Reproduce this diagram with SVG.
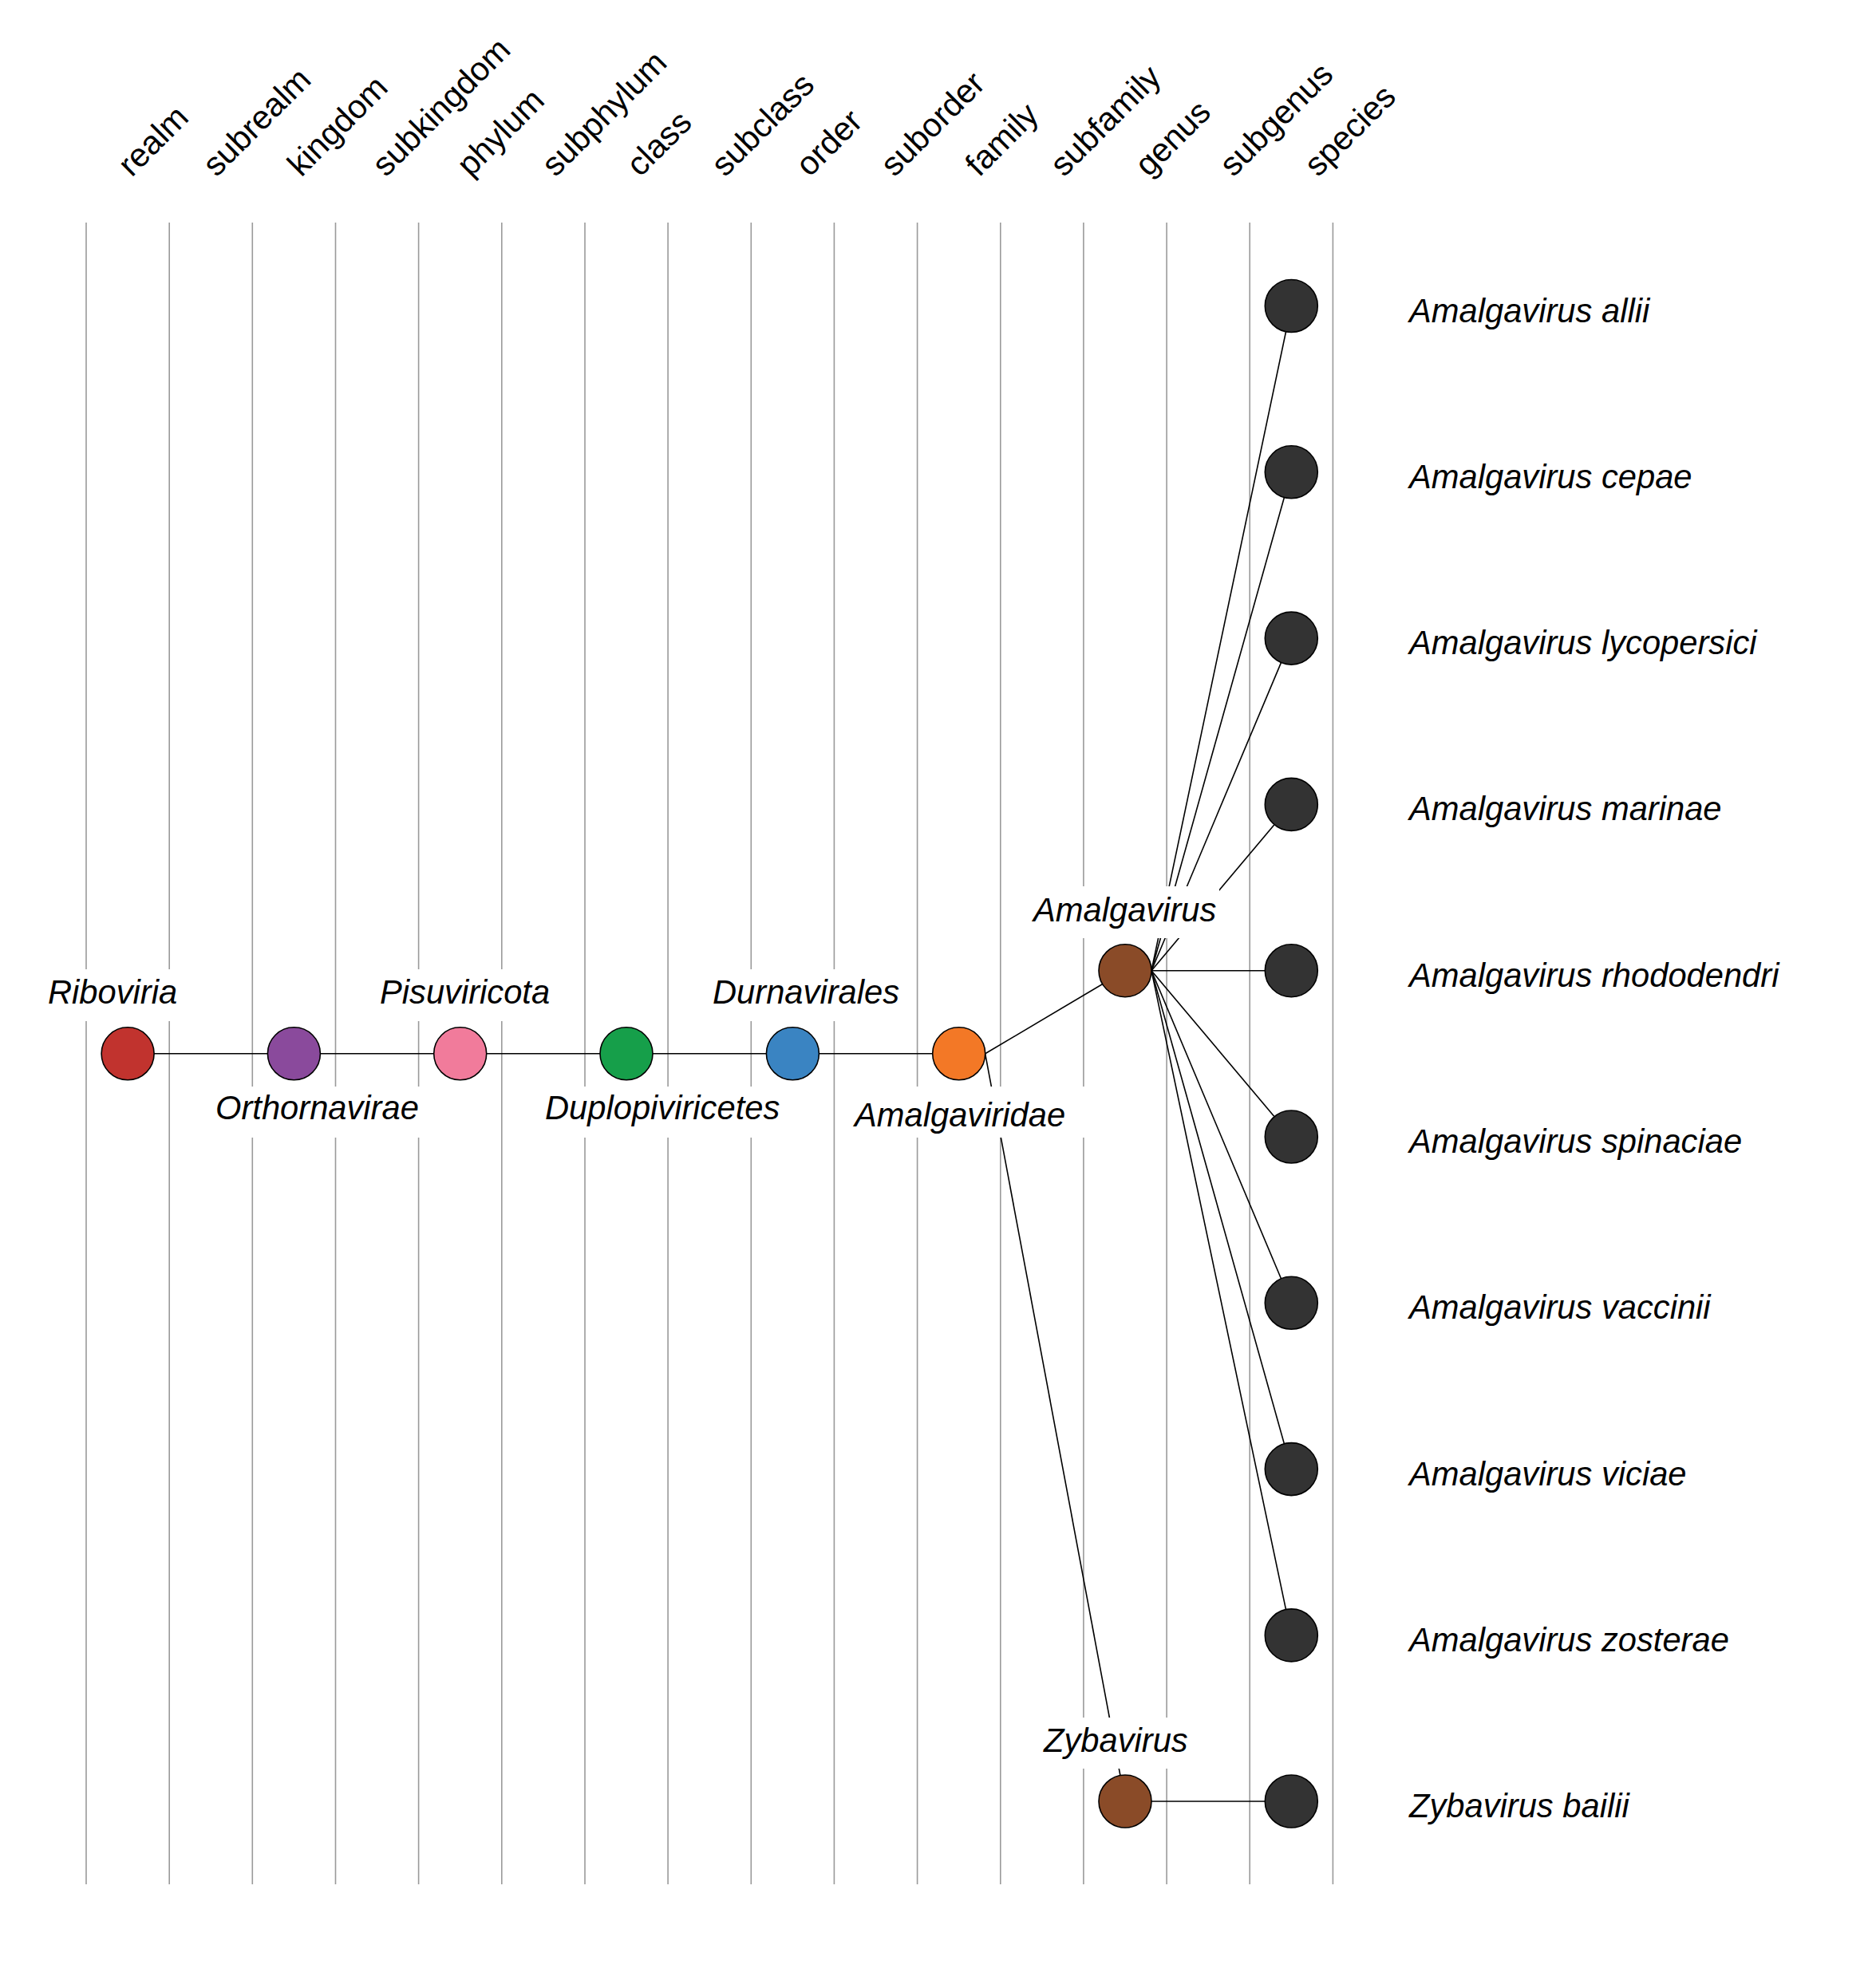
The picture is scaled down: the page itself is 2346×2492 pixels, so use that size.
<svg xmlns="http://www.w3.org/2000/svg" width="2346" height="2492" viewBox="0 0 2346 2492">
<style>
.grid{stroke:#9a9a9a;stroke-width:1.6}
.edge{stroke:#000;stroke-width:1.6;fill:none}
.node{stroke:#000;stroke-width:1.6}
.rank{font-family:"Liberation Sans",Arial,sans-serif;font-size:41.5px;fill:#000}
.lab{font-family:"Liberation Sans",Arial,sans-serif;font-size:41.7px;font-style:italic;fill:#000}
.box{fill:#fff;stroke:none}
</style>
<rect width="2346" height="2492" fill="#fff"/>
<g id="grid">
<line class="grid" x1="108" y1="279" x2="108" y2="2362"/>
<line class="grid" x1="212.2" y1="279" x2="212.2" y2="2362"/>
<line class="grid" x1="316.3" y1="279" x2="316.3" y2="2362"/>
<line class="grid" x1="420.5" y1="279" x2="420.5" y2="2362"/>
<line class="grid" x1="524.6" y1="279" x2="524.6" y2="2362"/>
<line class="grid" x1="628.8" y1="279" x2="628.8" y2="2362"/>
<line class="grid" x1="733" y1="279" x2="733" y2="2362"/>
<line class="grid" x1="837.1" y1="279" x2="837.1" y2="2362"/>
<line class="grid" x1="941.3" y1="279" x2="941.3" y2="2362"/>
<line class="grid" x1="1045.4" y1="279" x2="1045.4" y2="2362"/>
<line class="grid" x1="1149.6" y1="279" x2="1149.6" y2="2362"/>
<line class="grid" x1="1253.8" y1="279" x2="1253.8" y2="2362"/>
<line class="grid" x1="1357.9" y1="279" x2="1357.9" y2="2362"/>
<line class="grid" x1="1462.1" y1="279" x2="1462.1" y2="2362"/>
<line class="grid" x1="1566.2" y1="279" x2="1566.2" y2="2362"/>
<line class="grid" x1="1670.4" y1="279" x2="1670.4" y2="2362"/>
</g>
<g id="ranks">
<text class="rank" transform="translate(165,223) rotate(-45)">realm</text>
<text class="rank" transform="translate(271.2,223) rotate(-45)">subrealm</text>
<text class="rank" transform="translate(377.4,223) rotate(-45)">kingdom</text>
<text class="rank" transform="translate(483.6,223) rotate(-45)">subkingdom</text>
<text class="rank" transform="translate(589.8,223) rotate(-45)">phylum</text>
<text class="rank" transform="translate(696,223) rotate(-45)">subphylum</text>
<text class="rank" transform="translate(802.2,223) rotate(-45)">class</text>
<text class="rank" transform="translate(908.4,223) rotate(-45)">subclass</text>
<text class="rank" transform="translate(1014.6,223) rotate(-45)">order</text>
<text class="rank" transform="translate(1120.8,223) rotate(-45)">suborder</text>
<text class="rank" transform="translate(1227,223) rotate(-45)">family</text>
<text class="rank" transform="translate(1333.2,223) rotate(-45)">subfamily</text>
<text class="rank" transform="translate(1439.4,223) rotate(-45)">genus</text>
<text class="rank" transform="translate(1545.6,223) rotate(-45)">subgenus</text>
<text class="rank" transform="translate(1651.8,223) rotate(-45)">species</text>
</g>
<g id="connectors">
<line class="edge" x1="193" y1="1320.8" x2="368.4" y2="1320.8"/>
<line class="edge" x1="401.4" y1="1320.8" x2="576.7" y2="1320.8"/>
<line class="edge" x1="609.7" y1="1320.8" x2="785" y2="1320.8"/>
<line class="edge" x1="818" y1="1320.8" x2="993.4" y2="1320.8"/>
<line class="edge" x1="1026.4" y1="1320.8" x2="1201.7" y2="1320.8"/>
<line class="edge" x1="1234.7" y1="1320.8" x2="1410" y2="1216.7"/>
<line class="edge" x1="1234.7" y1="1320.8" x2="1410" y2="2258"/>
<line class="edge" x1="1443" y1="1216.7" x2="1618.3" y2="383.5"/>
<line class="edge" x1="1443" y1="1216.7" x2="1618.3" y2="591.8"/>
<line class="edge" x1="1443" y1="1216.7" x2="1618.3" y2="800.1"/>
<line class="edge" x1="1443" y1="1216.7" x2="1618.3" y2="1008.4"/>
<line class="edge" x1="1443" y1="1216.7" x2="1618.3" y2="1216.7"/>
<line class="edge" x1="1443" y1="1216.7" x2="1618.3" y2="1425"/>
<line class="edge" x1="1443" y1="1216.7" x2="1618.3" y2="1633.3"/>
<line class="edge" x1="1443" y1="1216.7" x2="1618.3" y2="1841.6"/>
<line class="edge" x1="1443" y1="1216.7" x2="1618.3" y2="2049.9"/>
<line class="edge" x1="1443" y1="2258" x2="1618.3" y2="2258"/>
</g>
<g id="labels">
<rect class="box" x="47" y="1215" width="188" height="65"/>
<text class="lab" x="60" y="1258">Riboviria</text>
<rect class="box" x="463" y="1215" width="240" height="65"/>
<text class="lab" x="476" y="1258">Pisuviricota</text>
<rect class="box" x="880" y="1215" width="260" height="65"/>
<text class="lab" x="893" y="1258">Durnavirales</text>
<rect class="box" x="257" y="1362" width="280" height="64"/>
<text class="lab" x="270" y="1403">Orthornavirae</text>
<rect class="box" x="670" y="1362" width="320" height="64"/>
<text class="lab" x="683" y="1403">Duplopiviricetes</text>
<rect class="box" x="1048" y="1362" width="311" height="64"/>
<text class="lab" x="1071" y="1412">Amalgaviridae</text>
<rect class="box" x="1282" y="1111" width="246" height="65"/>
<text class="lab" x="1295" y="1155">Amalgavirus</text>
<rect class="box" x="1295" y="2153" width="206" height="64"/>
<text class="lab" x="1308" y="2196">Zybavirus</text>
</g>
<g id="n-riboviria"><circle class="node" cx="160.1" cy="1320.8" r="33" fill="#C1332E"/></g>
<g id="n-orthornavirae"><circle class="node" cx="368.4" cy="1320.8" r="33" fill="#8A4A9C"/></g>
<g id="n-pisuviricota"><circle class="node" cx="576.7" cy="1320.8" r="33" fill="#F17B9B"/></g>
<g id="n-duplopiviricetes"><circle class="node" cx="785" cy="1320.8" r="33" fill="#169F4A"/></g>
<g id="n-durnavirales"><circle class="node" cx="993.4" cy="1320.8" r="33" fill="#3A84C2"/></g>
<g id="n-amalgaviridae"><circle class="node" cx="1201.7" cy="1320.8" r="33" fill="#F37826"/></g>
<g id="n-amalgavirus"><circle class="node" cx="1410" cy="1216.7" r="33" fill="#8A4B28"/></g>
<g id="n-zybavirus"><circle class="node" cx="1410" cy="2258" r="33" fill="#8A4B28"/></g>
<g id="species">
<g id="s-allii"><circle class="node" cx="1618.3" cy="383.5" r="33" fill="#333"/><text class="lab" x="1766" y="403.5">Amalgavirus allii</text></g>
<g id="s-cepae"><circle class="node" cx="1618.3" cy="591.8" r="33" fill="#333"/><text class="lab" x="1766" y="611.8">Amalgavirus cepae</text></g>
<g id="s-lycopersici"><circle class="node" cx="1618.3" cy="800.1" r="33" fill="#333"/><text class="lab" x="1766" y="820.1">Amalgavirus lycopersici</text></g>
<g id="s-marinae"><circle class="node" cx="1618.3" cy="1008.4" r="33" fill="#333"/><text class="lab" x="1766" y="1028.4">Amalgavirus marinae</text></g>
<g id="s-rhododendri"><circle class="node" cx="1618.3" cy="1216.7" r="33" fill="#333"/><text class="lab" x="1766" y="1236.7">Amalgavirus rhododendri</text></g>
<g id="s-spinaciae"><circle class="node" cx="1618.3" cy="1425" r="33" fill="#333"/><text class="lab" x="1766" y="1445">Amalgavirus spinaciae</text></g>
<g id="s-vaccinii"><circle class="node" cx="1618.3" cy="1633.3" r="33" fill="#333"/><text class="lab" x="1766" y="1653.3">Amalgavirus vaccinii</text></g>
<g id="s-viciae"><circle class="node" cx="1618.3" cy="1841.6" r="33" fill="#333"/><text class="lab" x="1766" y="1861.6">Amalgavirus viciae</text></g>
<g id="s-zosterae"><circle class="node" cx="1618.3" cy="2049.9" r="33" fill="#333"/><text class="lab" x="1766" y="2069.9">Amalgavirus zosterae</text></g>
<g id="s-bailii"><circle class="node" cx="1618.3" cy="2258" r="33" fill="#333"/><text class="lab" x="1766" y="2278">Zybavirus bailii</text></g>
</g>
</svg>
